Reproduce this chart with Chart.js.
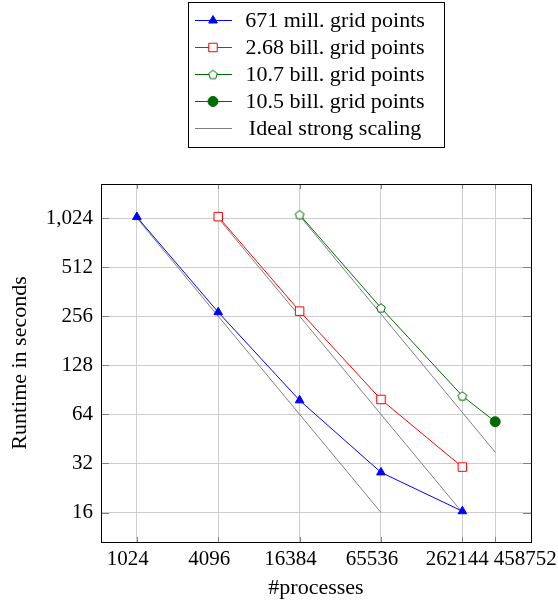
<!DOCTYPE html>
<html>
<head>
<meta charset="utf-8">
<script src="https://cdn.jsdelivr.net/npm/chart.js@4/dist/chart.umd.min.js"></script>
<style>
    html, body { margin: 0; padding: 0; background: #fff; }
    #wrap { width: 558px; height: 605px; }
</style>
</head>
<body>
<div id="wrap"><canvas id="chart" width="558" height="605"></canvas></div>
<script>
// axis ticks
const procTicks = [1024, 4096, 16384, 65536, 262144, 458752];
const procTickLabels = ['1024', '4096', '16384', '65536', '262144', '458752'];
const runtimeTicks = [16, 32, 64, 128, 256, 512, 1024];
const runtimeTickLabels = ['16', '32', '64', '128', '256', '512', '1,024'];

// measured runtimes
const procs671M = [1024, 4096, 16384, 65536, 262144];
const runtime671M = [1040, 271, 78, 28.2, 16.3];
const procs268B = [4096, 16384, 65536, 262144];
const runtime268B = [1045, 275, 79, 30.4];
const procs107B = [16384, 65536, 262144];
const runtime107B = [1075, 288, 83];
const procs105B = [262144, 458752];
const runtime105B = [83, 57.7];

// ideal strong scaling segments (null = gap)
const idealProcs = [1024, 65536, 65536, 4096, 262144, 262144, 16384, 458752];
const idealRuntime = [1024, 16, null, 1024, 16, null, 1060, 37.5];

const serif = '"Liberation Serif", "DejaVu Serif", serif';
const green = 'rgb(0,108,0)';

function toPoints(xs, ys) {
    return xs.map((x, i) => ({ x: x, y: ys[i] }));
}

// pentagon marker, not built into Chart.js
function pentagon(color) {
    const c = document.createElement('canvas');
    c.width = 12; c.height = 12;
    const g = c.getContext('2d');
    g.beginPath();
    for (let i = 0; i < 5; i++) {
        const a = -Math.PI / 2 + i * 2 * Math.PI / 5;
        const px = 6 + 4.6 * Math.cos(a);
        const py = 6.4 + 4.6 * Math.sin(a);
        if (i === 0) g.moveTo(px, py); else g.lineTo(px, py);
    }
    g.closePath();
    g.fillStyle = '#fff';
    g.fill();
    g.strokeStyle = color;
    g.lineWidth = 1;
    g.stroke();
    return c;
}
const pentagonMarker = pentagon(green);

// frame, inner tick marks, x tick labels and boxed legend
const frameAndLegend = {
    id: 'frameAndLegend',
    afterDatasetsDraw(chart) {
        const ctx = chart.ctx;
        const a = chart.chartArea;
        const xs = chart.scales.x, ys = chart.scales.y;
        ctx.save();
        ctx.strokeStyle = 'rgb(130,130,130)';
        ctx.lineWidth = 1;
        ctx.beginPath();
        procTicks.forEach(v => {
            const px = Math.round(xs.getPixelForValue(v)) + 0.5;
            ctx.moveTo(px, a.top); ctx.lineTo(px, a.top + 5);
            ctx.moveTo(px, a.bottom); ctx.lineTo(px, a.bottom - 5);
        });
        runtimeTicks.forEach(v => {
            const py = Math.round(ys.getPixelForValue(v)) + 0.5;
            ctx.moveTo(a.left, py); ctx.lineTo(a.left + 8, py);
            ctx.moveTo(a.right, py); ctx.lineTo(a.right - 8, py);
        });
        ctx.stroke();
        ctx.strokeStyle = '#000';
        ctx.strokeRect(Math.round(a.left) + 0.5, Math.round(a.top) + 0.5,
            Math.round(a.right - a.left), Math.round(a.bottom - a.top));

        // x tick labels, nudged like the original (last one sits right of its tick)
        const nudge = [-9, -9, -9, -9, -5, 30];
        ctx.fillStyle = '#000';
        ctx.font = '21px ' + serif;
        ctx.textAlign = 'center';
        ctx.textBaseline = 'top';
        procTicks.forEach((v, i) => {
            ctx.fillText(procTickLabels[i], xs.getPixelForValue(v) + nudge[i], a.bottom + 7);
        });

        // legend
        ctx.strokeRect(188.5, 2.5, 256, 145);
        chart.data.datasets.forEach((ds, i) => {
            const y = 20 + i * 27;
            ctx.strokeStyle = ds.borderColor;
            ctx.lineWidth = 1;
            ctx.beginPath();
            ctx.moveTo(195, y + 0.5);
            ctx.lineTo(232, y + 0.5);
            ctx.stroke();
            const r = Array.isArray(ds.pointRadius) ? ds.pointRadius[ds.pointRadius.length - 1] : ds.pointRadius;
            if (r > 0) {
                ctx.fillStyle = ds.pointBackgroundColor;
                ctx.strokeStyle = ds.pointBorderColor;
                Chart.helpers.drawPoint(ctx, {
                    pointStyle: ds.pointStyle, radius: r,
                    borderWidth: 1, rotation: 0
                }, 213, y + 0.5);
            }
            ctx.fillStyle = '#000';
            ctx.font = '22px ' + serif;
            ctx.textAlign = 'center';
            ctx.textBaseline = 'middle';
            ctx.fillText(ds.label, 335, y + 1);
        });
        ctx.restore();
    }
};

new Chart(document.getElementById('chart'), {
    type: 'line',
    data: {
        datasets: [
            {
                label: '671 mill. grid points',
                data: toPoints(procs671M, runtime671M),
                borderColor: '#0000ff', borderWidth: 1,
                pointStyle: 'triangle', pointRadius: 5,
                pointBackgroundColor: '#0000ff', pointBorderColor: '#0000ff'
            },
            {
                label: '2.68 bill. grid points',
                data: toPoints(procs268B, runtime268B),
                borderColor: '#ff0000', borderWidth: 1,
                pointStyle: 'rect', pointRadius: 6,
                pointBackgroundColor: '#ffffff', pointBorderColor: '#ff0000'
            },
            {
                label: '10.7 bill. grid points',
                data: toPoints(procs107B, runtime107B),
                borderColor: green, borderWidth: 1,
                pointStyle: pentagonMarker, pointRadius: 5,
                pointBackgroundColor: '#ffffff', pointBorderColor: green
            },
            {
                label: '10.5 bill. grid points',
                data: toPoints(procs105B, runtime105B),
                borderColor: green, borderWidth: 1,
                pointStyle: 'circle', pointRadius: [0, 5],
                pointBackgroundColor: green, pointBorderColor: green
            },
            {
                label: 'Ideal strong scaling',
                data: toPoints(idealProcs, idealRuntime),
                borderColor: 'rgb(128,128,128)', borderWidth: 1,
                pointRadius: 0, spanGaps: false
            }
        ]
    },
    options: {
        responsive: false,
        animation: false,
        events: [],
        layout: { padding: { top: 184, right: 27, left: 0, bottom: 0 } },
        plugins: { legend: { display: false }, tooltip: { enabled: false } },
        elements: { line: { tension: 0 } },
        scales: {
            x: {
                type: 'logarithmic',
                min: 556,
                max: 844000,
                afterBuildTicks: s => { s.ticks = procTicks.map(v => ({ value: v })); },
                afterFit: s => { s.height = 63; },
                grid: { color: 'rgb(205,205,205)', drawTicks: false },
                border: { display: false },
                ticks: { autoSkip: false, maxRotation: 0, display: false },
                title: {
                    display: true, text: '#processes', color: '#000',
                    font: { family: serif, size: 22 }, padding: { top: 0, bottom: 4 }
                }
            },
            y: {
                type: 'logarithmic',
                min: 10.55,
                max: 1657,
                afterBuildTicks: s => { s.ticks = runtimeTicks.map(v => ({ value: v })); },
                afterFit: s => { s.width = 101; },
                grid: { color: 'rgb(205,205,205)', drawTicks: false },
                border: { display: false },
                ticks: {
                    autoSkip: false, padding: 8,
                    color: '#000', font: { family: serif, size: 21 },
                    callback: (v, i) => runtimeTickLabels[i]
                },
                title: {
                    display: true, text: 'Runtime in seconds', color: '#000',
                    font: { family: serif, size: 22 }, padding: { top: 7, bottom: 0 }
                }
            }
        }
    },
    plugins: [frameAndLegend]
});
</script>
</body>
</html>
